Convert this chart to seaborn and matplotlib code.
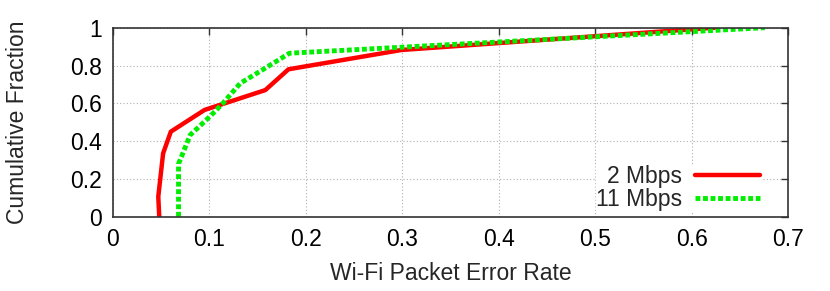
import pandas as pd
import matplotlib
matplotlib.use("Agg")
import matplotlib.pyplot as plt
import seaborn as sns

# CDF points
per_2mbps = [0.048, 0.047, 0.052, 0.060, 0.095, 0.158, 0.182, 0.299, 0.624]
cdf_2mbps = [0.0, 0.106, 0.335, 0.45, 0.565, 0.67, 0.78, 0.882, 1.0]

per_11mbps = [0.068, 0.068, 0.071, 0.080, 0.1005, 0.114, 0.132, 0.156, 0.183, 0.676]
cdf_11mbps = [0.0, 0.28, 0.317, 0.432, 0.53, 0.60, 0.706, 0.78, 0.865, 1.0]

x_ticks = [0, 0.1, 0.2, 0.3, 0.4, 0.5, 0.6, 0.7]
y_ticks = [0, 0.2, 0.4, 0.6, 0.8, 1.0]

sns.set_style("white")
plt.rcParams['font.family'] = ['Liberation Sans', 'DejaVu Sans']

df = pd.concat([
    pd.DataFrame({"per": per_2mbps, "cdf": cdf_2mbps, "rate": "2 Mbps"}),
    pd.DataFrame({"per": per_11mbps, "cdf": cdf_11mbps, "rate": "11 Mbps"}),
], ignore_index=True)

fig = plt.figure(figsize=(8.3, 2.91), dpi=100)
ax = fig.add_axes([0.1361, 0.2553, 0.8133, 0.6495])

sns.lineplot(data=df[df.rate == "2 Mbps"], x="per", y="cdf", sort=False, estimator=None,
             color="#ff0000", linewidth=3.2, label="2 Mbps", ax=ax)
sns.lineplot(data=df[df.rate == "11 Mbps"], x="per", y="cdf", sort=False, estimator=None,
             color="#00ee00", linewidth=3.5, label="11 Mbps", ax=ax)
ax.lines[1].set_linestyle((0, (1, 0.55)))
ax.lines[1].set_dash_capstyle("butt")

ax.set_xlim(0, 0.7)
ax.set_ylim(0, 1)
ax.set_xticks(x_ticks)
ax.set_yticks(y_ticks)
ax.set_xticklabels(["0", "0.1", "0.2", "0.3", "0.4", "0.5", "0.6", "0.7"])
ax.set_yticklabels(["0", "0.2", "0.4", "0.6", "0.8", "1"])
ax.grid(True, color="#b0b0b0", linestyle=(0, (1, 2)), linewidth=0.8)
ax.tick_params(direction="in", length=5, width=1, top=True, right=True,
               labelsize=16.5, colors="#333333", labelcolor="black", pad=8)
for s in ax.spines.values():
    s.set_color("#333333")
    s.set_linewidth(1.2)

ax.set_xlabel("Wi-Fi Packet Error Rate", fontsize=16.5)
ax.set_ylabel("Cumulative Fraction", fontsize=16.5)
ax.yaxis.set_label_coords(-0.141, 0.5)
ax.xaxis.set_label_coords(0.5, -0.298)
ax.xaxis.label.set_va("center")
ax.yaxis.label.set_va("center")

# gnuplot-style key: text on the left, sample line on the right
leg = ax.legend(loc="lower right", markerfirst=False, frameon=True, fontsize=16.5,
                handlelength=2.8, handletextpad=0.6, borderpad=0.0, labelspacing=0.0,
                borderaxespad=0.0, fancybox=False, framealpha=1,
                edgecolor="white", facecolor="white",
                bbox_to_anchor=(0.958, 0.03))
for t in leg.get_texts():
    t.set_ha("right")

fig.savefig("out.png", dpi=100)
